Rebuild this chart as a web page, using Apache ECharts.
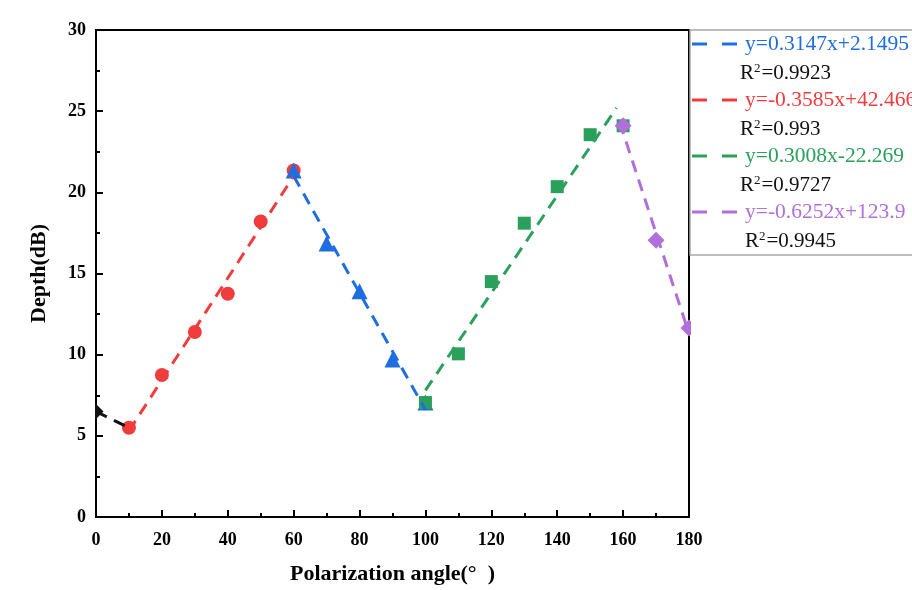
<!DOCTYPE html>
<html>
<head>
<meta charset="utf-8">
<script src="https://cdn.jsdelivr.net/npm/echarts@6/dist/echarts.min.js"></script>
<style>
    html, body { margin: 0; padding: 0; background: #fff; }
    #main { width: 912px; height: 590px; }
</style>
</head>
<body>
<div id="main"></div>
<script>
    // 测量点
    var blackX = [0];
    var blackY = [6.5];
    var redX = [10, 20, 30, 40, 50, 60];
    var redY = [5.5, 8.75, 11.4, 13.75, 18.2, 21.35];
    var blueX = [60, 70, 80, 90, 100];
    var blueY = [21.35, 16.85, 13.9, 9.7, 7.05];
    var greenX = [100, 110, 120, 130, 140, 150, 160];
    var greenY = [7.05, 10.05, 14.5, 18.1, 20.35, 23.55, 24.1];
    var purpleX = [160, 170, 180];
    var purpleY = [24.1, 17.05, 11.65];

    // 拟合线两端
    var blackFitX = [0, 10];
    var blackFitY = [6.5, 5.5];
    var redFitX = [10, 60];
    var redFitY = [5.3, 21.0];
    var blueFitX = [60, 100];
    var blueFitY = [21.0, 6.6];
    var greenFitX = [100, 158];
    var greenFitY = [7.8, 25.2];
    var purpleFitX = [159, 180];
    var purpleFitY = [24.3, 11.3];

    // 图例文字
    var legendEq = ['y=0.3147x+2.1495', 'y=-0.3585x+42.466', 'y=0.3008x-22.269', 'y=-0.6252x+123.9'];
    var legendR2 = ['0.9923', '0.993', '0.9727', '0.9945'];

    var xTicks = [0, 180, 20];
    var yTicks = [0, 30, 5];

    var colors = {
        black: '#111111',
        red: '#f03c3c',
        blue: '#1f6ee0',
        green: '#2aa05c',
        purple: '#b16fdc'
    };
    var legendColors = [colors.blue, colors.red, colors.green, colors.purple];
    var font = '"Liberation Serif", "Times New Roman", serif';

    function pairs(xs, ys) {
        var out = [];
        for (var i = 0; i < xs.length; i++) {
            out.push([xs[i], ys[i]]);
        }
        return out;
    }

    function fitSeries(xs, ys, color) {
        return {
            type: 'line',
            data: pairs(xs, ys),
            symbol: 'none',
            silent: true,
            lineStyle: { color: color, width: 3, type: [12, 8] }
        };
    }

    function pointSeries(xs, ys, color, symbol, size) {
        return {
            type: 'scatter',
            data: pairs(xs, ys),
            symbol: symbol,
            symbolSize: size,
            itemStyle: { color: color, opacity: 1 }
        };
    }

    // 图例 (graphic)
    var legendGraphics = [];
    // 图例外框
    legendGraphics.push({
        type: 'rect',
        shape: { x: 690, y: 30, width: 230, height: 225 },
        style: { fill: '#fff', stroke: '#a8a8a8', lineWidth: 1.5 },
        z: 5
    });
    // 遮住轴外的半个点
    legendGraphics.push({
        type: 'rect',
        shape: { x: 86, y: 30, width: 9, height: 489 },
        style: { fill: '#fff' },
        z: 5
    });
    legendGraphics.push({
        type: 'rect',
        shape: { x: 691, y: 256, width: 20, height: 270 },
        style: { fill: '#fff' },
        z: 5
    });
    for (var i = 0; i < legendEq.length; i++) {
        var rowY = 44 + i * 56;
        legendGraphics.push({
            type: 'line',
            shape: { x1: 692, y1: rowY, x2: 737, y2: rowY },
            style: { stroke: legendColors[i], lineWidth: 3, lineDash: [15, 15] },
            z: 6
        });
        legendGraphics.push({
            type: 'text',
            x: 745,
            y: rowY,
            style: {
                text: legendEq[i],
                fill: legendColors[i],
                font: '21.5px ' + font,
                verticalAlign: 'middle'
            },
            z: 6
        });
        legendGraphics.push({
            type: 'text',
            x: i == 3 ? 745 : 740,
            y: rowY + 29,
            style: {
                text: '{n|R}{s|2}{n|=' + legendR2[i] + '}',
                verticalAlign: 'middle',
                rich: {
                    n: { fontSize: 21, fontFamily: font, fill: '#111', lineHeight: 22 },
                    s: { fontSize: 13, fontFamily: font, fill: '#111', lineHeight: 22, verticalAlign: 'top', padding: [0, 1, 0, 0] }
                }
            },
            z: 6
        });
    }

    var option = {
        animation: false,
        backgroundColor: '#fff',
        grid: {
            left: 96,
            right: 223,
            top: 30,
            bottom: 71,
            show: true,
            borderColor: '#000',
            borderWidth: 2,
            backgroundColor: 'transparent'
        },
        xAxis: {
            type: 'value',
            min: xTicks[0],
            max: xTicks[1],
            interval: xTicks[2],
            name: 'Polarization angle(°  )',
            nameLocation: 'middle',
            nameGap: 46,
            nameTextStyle: { fontFamily: font, fontWeight: 'bold', fontSize: 22, color: '#000' },
            axisLine: { onZero: false, lineStyle: { color: '#000', width: 2 } },
            axisTick: { inside: true, length: 7, lineStyle: { color: '#000', width: 2 } },
            minorTick: { show: true, splitNumber: 2, length: 4, lineStyle: { color: '#000', width: 2 } },
            axisLabel: { margin: 14, fontFamily: font, fontWeight: 'bold', fontSize: 18, color: '#000' },
            splitLine: { show: false }
        },
        yAxis: {
            type: 'value',
            min: yTicks[0],
            max: yTicks[1],
            interval: yTicks[2],
            name: 'Depth(dB)',
            nameLocation: 'middle',
            nameGap: 46,
            nameTextStyle: { fontFamily: font, fontWeight: 'bold', fontSize: 22, color: '#000' },
            axisLine: { onZero: false, lineStyle: { color: '#000', width: 2 } },
            axisTick: { inside: true, length: 7, lineStyle: { color: '#000', width: 2 } },
            minorTick: { show: true, splitNumber: 2, length: 4, lineStyle: { color: '#000', width: 2 } },
            axisLabel: { margin: 10, fontFamily: font, fontWeight: 'bold', fontSize: 18, color: '#000' },
            splitLine: { show: false }
        },
        series: [
            fitSeries(blackFitX, blackFitY, colors.black),
            pointSeries(blackX, blackY, colors.black, 'diamond', 15),
            fitSeries(redFitX, redFitY, colors.red),
            pointSeries(redX, redY, colors.red, 'circle', 14),
            fitSeries(blueFitX, blueFitY, colors.blue),
            pointSeries(blueX, blueY, colors.blue, 'triangle', 16),
            fitSeries(greenFitX, greenFitY, colors.green),
            pointSeries(greenX, greenY, colors.green, 'rect', 13),
            fitSeries(purpleFitX, purpleFitY, colors.purple),
            pointSeries(purpleX, purpleY, colors.purple, 'diamond', 17)
        ],
        graphic: legendGraphics
    };

    var myChart = echarts.init(document.getElementById('main'));
    myChart.setOption(option);
</script>
</body>
</html>
